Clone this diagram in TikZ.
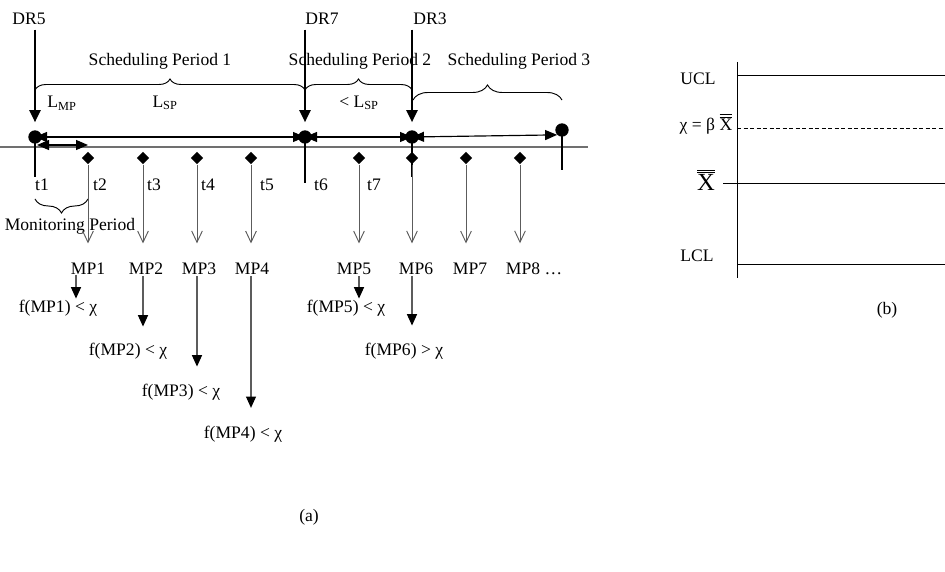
\documentclass[tikz,border=0pt]{standalone}
\usepackage{fontspec}
\setmainfont{Liberation Serif}
\usetikzlibrary{arrows.meta, shapes.geometric, decorations.pathreplacing, positioning}
\definecolor{axisgray}{HTML}{707070}
\definecolor{stemgray}{HTML}{5C5C5C}
\newcommand{\xdbar}{$\overline{\overline{\hbox{X}}}$}
\tikzstyle{lbl} = [inner sep=1pt, font=\fontsize{15}{17}\selectfont]
\tikzstyle{drdot} = [circle, fill=black, inner sep=0pt, minimum size=0.4cm]
\tikzstyle{probe} = [diamond, fill=black, inner sep=0pt, minimum size=0.38cm]
\tikzstyle{drarrow} = [-{Triangle[length=3.6mm, width=3.4mm]}, line width=1.5pt]
\tikzstyle{spanarrow} = [{Triangle[length=3.6mm, width=3mm]}-{Triangle[length=3.6mm, width=3mm]}, line width=1pt]
\tikzstyle{drtick} = [line width=2.2pt]
\tikzstyle{stem} = [-{Straight Barb[length=3.4mm, width=3.2mm]}, stemgray, line width=0.8pt]
\tikzstyle{fall} = [-{Triangle[length=3.4mm, width=3mm, color=black]}, stemgray, line width=0.9pt]
\tikzstyle{period} = [decorate, decoration={brace, amplitude=0.33cm}, line width=0.8pt]
\tikzstyle{limit} = [line width=0.8pt]

\begin{document}
\begin{tikzpicture}[x=0.03cm, y=-0.03cm]
    \useasboundingbox (0,0) rectangle (945,572);
    % Time axis
    \coordinate (ax0) at (0,147);
    \coordinate (ax1) at (588,147);
    \draw[axisgray, line width=1.2pt] (ax0) -- (ax1);
    % Decision requests and scheduling points
    \node[lbl] (dr5) at (29,19) {DR5};
    \node[lbl] (dr7) at (322,19) {DR7};
    \node[lbl] (dr3) at (430,19) {DR3};
    \node[drdot] (s1) at (35,137) {};
    \node[drdot] (s2) at (305,137) {};
    \node[drdot] (s3) at (412,137) {};
    \node[drdot] (s4) at (562,130) {};
    \coordinate (k1) at (35,177);
    \coordinate (k2) at (305,183);
    \coordinate (k3) at (412,177);
    \coordinate (k4) at (562,170);
    % Monitoring points
    \foreach \x [count=\i] in {88,143,197,251,359,412,466,520}
        \node[probe] (p\i) at (\x,158) {};
    \foreach \x/\t in {42/1, 100/2, 154/3, 208/4, 267/5, 321/6, 374/7}
        \node[lbl] (t\t) at (\x,185) {t\t};
    \foreach \x/\i in {88/1, 146/2, 199/3, 252/4, 354/5, 416/6, 470/7}
        \node[lbl] (mp\i) at (\x,269) {MP\i};
    \node[lbl] (mp8) at (534,269) {MP8 …};
    \node[lbl] (f1) at (58,308) {f(MP1) < χ};
    \node[lbl] (f2) at (128,351) {f(MP2) < χ};
    \node[lbl] (f3) at (181,392) {f(MP3) < χ};
    \node[lbl] (f4) at (243,434) {f(MP4) < χ};
    \node[lbl] (f5) at (346,308) {f(MP5) < χ};
    \node[lbl] (f6) at (404,351) {f(MP6) > χ};
    % Periods
    \node[lbl] (sp1) at (160,61) {Scheduling Period 1};
    \node[lbl] (sp2) at (360,61) {Scheduling Period 2};
    \node[lbl] (sp3) at (519,61) {Scheduling Period 3};
    \node[lbl] (lmp) at (62,103) {L\textsubscript{MP}};
    \node[lbl] (lsp) at (165,103) {L\textsubscript{SP}};
    \node[lbl] (lsp2) at (359,103) {< L\textsubscript{SP}};
    \node[lbl] (mon) at (70,226) {Monitoring Period};
    \node[lbl] (capa) at (309,517) {(a)};
    \coordinate (b1a) at (35,90);
    \coordinate (b1b) at (305,90);
    \coordinate (b2b) at (412,90);
    \coordinate (b3a) at (413,100);
    \coordinate (b3b) at (562,100);
    \coordinate (m0a) at (88,199);
    \coordinate (m0b) at (35,199);
    \draw[period] (b1a) -- (b1b);
    \draw[period] (b1b) -- (b2b);
    \draw[period, decoration={amplitude=0.45cm}] (b3a) -- (b3b);
    \draw[period, decoration={amplitude=0.42cm}] (m0a) -- (m0b);
    % Arrows
    \draw[drarrow, shorten <=0.1cm, shorten >=0.24cm] (dr5.south -| s1) -- (s1.north);
    \draw[drarrow, shorten <=0.1cm, shorten >=0.24cm] (dr7.south -| s2) -- (s2.north);
    \draw[drarrow, shorten <=0.1cm, shorten >=0.24cm] (dr3.south -| s3) -- (s3.north);
    \draw[drtick] (s1.center) -- (k1);
    \draw[drtick] (s2.center) -- (k2);
    \draw[drtick] (s3.center) -- (k3);
    \draw[drtick] (s4.center) -- (k4);
    \draw[spanarrow] (s1.center) -- (s2.center);
    \draw[spanarrow] (s2.center) -- (s3.center);
    \draw[spanarrow] (s3.center) -- (s4.south west);
    \coordinate (lm0) at (37,145);
    \draw[spanarrow] (lm0) -- (lm0 -| p1);
    \foreach \i in {1,...,8}
        \draw[stem, shorten >=0.55cm] (p\i.south) -- (p\i |- mp\i.north);
    \coordinate (m1) at (76,275);
    \draw[fall] (m1) -- (m1 |- f1.north);
    \draw[fall, shorten >=0.45cm] (p2 |- mp2.south) -- (p2 |- f2.north);
    \draw[fall, shorten >=0.48cm] (p3 |- mp3.south) -- (p3 |- f3.north);
    \draw[fall, shorten >=0.5cm] (p4 |- mp4.south) -- (p4 |- f4.north);
    \draw[fall] (p5 |- mp5.south) -- (p5 |- f5.north);
    \draw[fall, shorten >=0.48cm] (p6 |- mp6.south) -- (p6 |- f6.north);
    % (b) control chart
    \node[lbl] (ucl) at (698,79) {UCL};
    \node[lbl] (chi) at (706,124) {χ = β \xdbar};
    \node[lbl, font=\fontsize{21}{24}\selectfont] (xbb) at (706,180) {\xdbar};
    \node[lbl] (lcl) at (697,256) {LCL};
    \node[lbl] (capb) at (887,310) {(b)};
    \draw[limit] (737,62) -- (737,278);
    \draw[limit] (737,75) -- (945,75);
    \draw[limit, dash pattern=on 1.2mm off 0.75mm] (737,128) -- (945,128);
    \draw[limit] (723,183) -- (945,183);
    \draw[limit] (737,264) -- (945,264);
\end{tikzpicture}
\end{document}
